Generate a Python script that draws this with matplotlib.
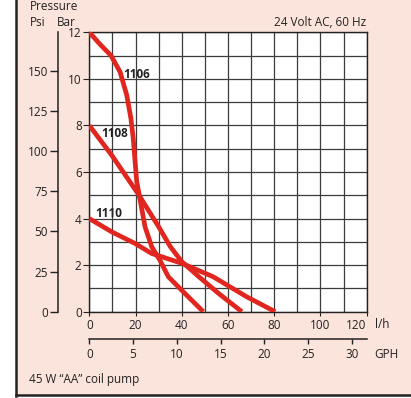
import numpy as np
import matplotlib.pyplot as plt
from matplotlib.patches import Rectangle
from matplotlib.lines import Line2D

plt.rcParams['font.family'] = ['Open Sans', 'DejaVu Sans']

# caudal (l/h) y presión (bar) de cada bomba
q_1106 = [0, 4.5, 9.4, 13.3, 16.2, 18.0, 19.0, 19.8, 20.5, 21.9, 24.1, 27, 30.6, 34.2, 42, 49.3]
p_1106 = [12, 11.5, 11.0, 10.3, 9.3, 8.3, 7.45, 6.45, 5.6, 4.85, 3.65, 2.79, 2.2, 1.5, 0.72, 0]

q_1108 = [0, 9.7, 21.2, 30, 35, 40, 48, 56, 66]
p_1108 = [8, 6.72, 5.05, 3.65, 2.8, 2.15, 1.45, 0.78, 0]

q_1110 = [0, 9.7, 19.8, 27, 40, 53.6, 68.1, 80.4]
p_1110 = [4.0, 3.43, 2.93, 2.5, 2.08, 1.5, 0.64, 0]

etiquetas = ['1106', '1108', '1110']
pos_etiquetas = [(14.7, 10.17), (5.1, 7.64), (2.5, 4.22)]

bar_ticks = [0, 2, 4, 6, 8, 10, 12]
psi_ticks = [0, 25, 50, 75, 100, 125, 150]
lph_ticks = [0, 20, 40, 60, 80, 100, 120]
gph_ticks = [0, 5, 10, 15, 20, 25, 30]

rojo = '#E0261F'
rosa = '#FBE4DC'
texto = '#222222'
fs = 8.5

W, H = 411, 398
fig = plt.figure(figsize=(W / 100, H / 100), dpi=100)
fig.patch.set_facecolor('white')

# fondo rosa con borde izquierdo e inferior
fig.patches.append(Rectangle((16 / W, 3 / H), 1, 1, transform=fig.transFigure,
                             facecolor=rosa, edgecolor='none', zorder=-5))
fig.lines.append(Line2D([16 / W, 16 / W], [2.5 / H, 1], transform=fig.transFigure,
                        color='#222222', lw=1.8))
fig.lines.append(Line2D([15.5 / W, 1], [2.8 / H, 2.8 / H], transform=fig.transFigure,
                        color='#222222', lw=1.8))

ax = fig.add_axes([89.3 / W, (H - 311.7) / H, 277.4 / W, 279.4 / H])
ax.set_facecolor('white')
ax.set_xlim(0, 120)
ax.set_ylim(0, 12)

ax.set_xticks(lph_ticks)
ax.set_xticks(np.arange(10, 120, 20), minor=True)
ax.set_yticks(bar_ticks)
ax.set_yticks(np.arange(1, 12, 2), minor=True)
ax.grid(True, which='both', color='#3c3c3c', lw=0.9)
ax.set_axisbelow(True)
for s in ax.spines.values():
    s.set_color('#222222')
    s.set_linewidth(1.0)
ax.tick_params(axis='y', which='major', length=4, pad=1.5, labelsize=fs, colors=texto)
ax.tick_params(axis='x', which='major', length=3, pad=2, labelsize=fs, colors=texto)
ax.tick_params(which='minor', length=0)
# la última etiqueta (120) queda a la izquierda de su marca
ax.get_xticklabels()[-1].set_horizontalalignment('right')

for q, p in [(q_1106, p_1106), (q_1108, p_1108), (q_1110, p_1110)]:
    ax.plot(q, p, color=rojo, lw=3.4, solid_capstyle='butt', solid_joinstyle='round', zorder=3)

for t, (x, y) in zip(etiquetas, pos_etiquetas):
    ax.text(x, y, t, fontsize=8.5, fontweight='bold', color=texto, va='center', ha='left',
            zorder=4)

# eje de psi
psi = ax.secondary_yaxis(-31.0 / 277.4, functions=(lambda b: b * 14.5038, lambda p: p / 14.5038))
psi.set_yticks(psi_ticks)
psi.tick_params(length=6, pad=1.5, labelsize=fs, colors=texto, width=1)
psi.spines['left'].set_linewidth(1.1)
psi.spines['left'].set_color('#222222')

# eje de GPH
gph = ax.secondary_xaxis(-27.6 / 279.4, functions=(lambda q: q / 3.785, lambda g: g * 3.785))
gph.set_xticks(gph_ticks)
gph.tick_params(length=3.5, pad=2.5, labelsize=fs, colors=texto, width=1)
gph.spines['bottom'].set_linewidth(1.1)
gph.spines['bottom'].set_color('#222222')

fig.text(375 / W, (H - 325) / H, 'l/h', fontsize=fs, color=texto, va='center', ha='left')
fig.text(374 / W, (H - 354) / H, 'GPH', fontsize=fs, color=texto, va='center', ha='left')
fig.text(30 / W, (H - 6) / H, 'Pressure', fontsize=fs, color=texto, va='center', ha='left')
fig.text(30 / W, (H - 22) / H, 'Psi', fontsize=fs, color=texto, va='center', ha='left')
fig.text(57 / W, (H - 22) / H, 'Bar', fontsize=fs, color=texto, va='center', ha='left')
fig.text(366 / W, (H - 22) / H, '24 Volt AC, 60 Hz', fontsize=fs, color=texto, va='center', ha='right')
fig.text(29 / W, (H - 380) / H, '45 W “AA” coil pump', fontsize=fs, color=texto, va='center', ha='left')

fig.savefig('out.png', dpi=100, facecolor=fig.get_facecolor())
